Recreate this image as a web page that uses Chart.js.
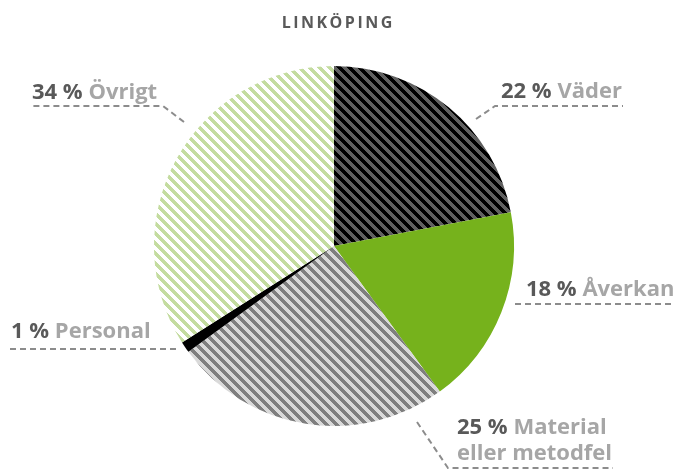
<!DOCTYPE html>
<html lang="sv">
<head>
<meta charset="UTF-8">
<title>Linköping</title>
<script src="https://cdn.jsdelivr.net/npm/chart.js"></script>
<style>
    body { margin: 0; background: #fff; }
    #wrap { width: 675px; height: 469px; position: relative; }
</style>
</head>
<body>
<div id="wrap"><canvas id="pie"></canvas></div>
<script>
    const categories = ['Väder', 'Åverkan', 'Material|eller metodfel', 'Personal', 'Övrigt'];
    const shares = [22, 18, 25, 1, 34];
    const chartTitle = 'LINKÖPING';

    // crisp striped fill, stripes running top-left to bottom-right
    function stripes(fg, bg, size, width) {
        const c = document.createElement('canvas');
        c.width = size; c.height = size;
        const g = c.getContext('2d');
        g.fillStyle = bg;
        g.fillRect(0, 0, size, size);
        g.fillStyle = fg;
        for (let y = 0; y < size; y++) {
            for (let x = 0; x < size; x++) {
                if (((x - y) % size + size) % size < width) g.fillRect(x, y, 1, 1);
            }
        }
        return g.createPattern(c, 'repeat');
    }

    const ctx = document.getElementById('pie').getContext('2d');
    const fills = [
        stripes('#000000', '#606060', 10, 5),
        '#76b21c',
        stripes('#7f7f7f', '#d9d9d9', 10, 5),
        '#000000',
        stripes('#c4dca0', '#ffffff', 10, 5)
    ];

    // label placement: text anchor and leader line points
    const labelSpots = [
        { x: 501, y: 98, line: [[476, 119], [495, 106], [623, 106]] },
        { x: 526, y: 296, line: [[515, 304], [675, 304]] },
        { x: 457, y: 434, line: [[417, 422], [448, 468], [613, 468]] },
        { x: 11, y: 338, line: [[176, 349], [8, 349]] },
        { x: 32, y: 99, line: [[184, 122], [163, 106], [30, 106]] }
    ];

    const labelPlugin = {
        id: 'labels',
        afterDraw(chart) {
            const c = chart.ctx;
            c.save();
            // title
            c.font = 'bold 16px "Open Sans"';
            c.fillStyle = '#595959';
            c.textBaseline = 'alphabetic';
            if ('letterSpacing' in c) c.letterSpacing = '2.5px';
            const tw = c.measureText(chartTitle).width;
            c.fillText(chartTitle, 337 - tw / 2 + 1.2, 28);
            if ('letterSpacing' in c) c.letterSpacing = '0px';

            categories.forEach((name, i) => {
                const s = labelSpots[i];
                c.setLineDash([6, 4]);
                c.strokeStyle = '#8c8c8c';
                c.lineWidth = 2;
                c.beginPath();
                s.line.forEach((p, j) => j ? c.lineTo(p[0], p[1]) : c.moveTo(p[0], p[1]));
                c.stroke();
                c.setLineDash([]);

                c.font = 'bold 22px "Open Sans"';
                const pct = shares[i] + ' % ';
                c.fillStyle = '#595959';
                c.fillText(pct, s.x, s.y);
                const w = c.measureText(pct).width;
                c.fillStyle = '#a6a6a6';
                const parts = name.split('|');
                c.fillText(parts[0], s.x + w, s.y);
                if (parts[1]) c.fillText(parts[1], s.x, s.y + 26);
            });
            c.restore();
        }
    };

    new Chart(ctx, {
        type: 'pie',
        data: {
            labels: categories.map(n => n.replace('|', ' ')),
            datasets: [{
                data: shares,
                backgroundColor: fills,
                borderWidth: 0
            }]
        },
        options: {
            responsive: true,
            maintainAspectRatio: false,
            animation: false,
            layout: { padding: { left: 154, right: 161, top: 66, bottom: 43 } },
            plugins: {
                legend: { display: false },
                tooltip: { enabled: false }
            }
        },
        plugins: [labelPlugin]
    });
</script>
</body>
</html>
